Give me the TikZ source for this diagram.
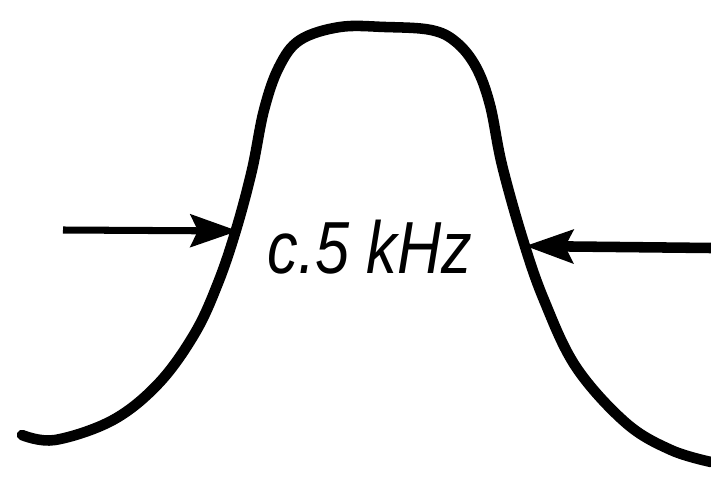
\documentclass[tikz,border=0pt]{standalone}
\usepackage{graphicx}
\usepackage{fontspec}
\newfontfamily\handfont{Liberation Sans}
\usetikzlibrary{arrows.meta}

\begin{document}
\begin{tikzpicture}[
    x=0.02cm, y=-0.02cm,
    bandcurve/.style={line width=6pt, line cap=round, line join=round},
    widtharrow/.style={-{Stealth[length=0.95cm, width=0.65cm, inset=0.15cm]}},
    bandlabel/.style={inner sep=0pt, font=\handfont\itshape\fontsize{42}{42}\selectfont},
]
  \useasboundingbox (0,0) rectangle (711,480);

  % pass band
  \draw[bandcurve] plot[smooth, tension=0.6] coordinates {
    (22,435) (55,440) (113,420) (159,383) (195,333) (218,283) (236,230)
    (252,170) (264,110) (279,67) (300,40) (340,27) (385,27) (431,30)
    (456,42) (476,67) (490,105) (502,165) (523,240) (544,300) (576,367)
    (626,423) (671,450) (711,462)};

  \coordinate (lefttail) at (63,230);
  \coordinate (leftedge) at (238,231);
  \coordinate (righttail) at (711,248);
  \coordinate (rightedge) at (525,246);

  \node[bandlabel] (bw) at (370,247) {\scalebox{0.83}[1]{c.5 kHz}};

  \draw[widtharrow, line width=4pt] (lefttail) -- (leftedge);
  \draw[widtharrow, line width=6pt] (righttail) -- (rightedge);
\end{tikzpicture}
\end{document}
